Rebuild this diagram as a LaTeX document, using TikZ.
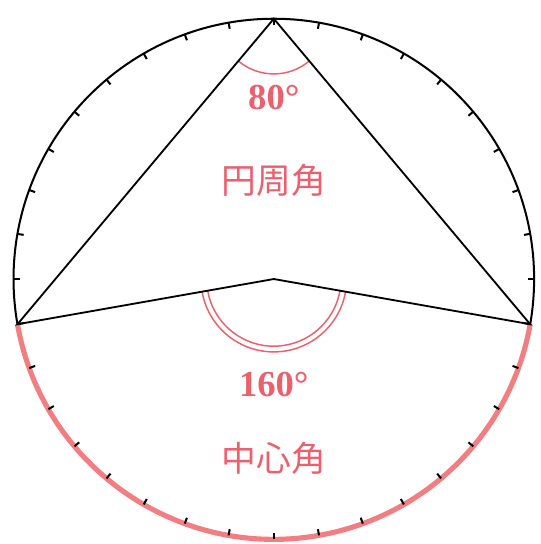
\documentclass[tikz,border=0pt]{standalone}
\usepackage{fontspec}
\setmainfont{Liberation Serif}
\newfontfamily\jpfont{Noto Sans CJK JP}
\usetikzlibrary{calc}
\definecolor{angred} {RGB}{236,96,108}
\definecolor{arcpink}{RGB}{242,126,130}
\tikzset{
  rim/.style   ={line width=1.1pt, black},
  chord/.style ={line width=1pt, black, line join=miter},
  tickmark/.style={line width=1.1pt, black},
  bigarc/.style={line width=2.8pt, arcpink},
  angarc/.style={line width=0.8pt, angred},
  numlbl/.style={text=angred, font=\fontsize{20}{24}\selectfont\bfseries, inner sep=0pt},
  jplbl/.style ={text=angred, font=\fontsize{19}{23}\selectfont\jpfont, inner sep=0pt},
}
\begin{document}
\begin{tikzpicture}
  \useasboundingbox (-5.26,-5.09) rectangle (5.13,5.36);
  % points on the circle
  \coordinate (O) at (0,0);
  \coordinate (C) at (90:5);
  \coordinate (A) at (190:5);
  \coordinate (B) at (350:5);
  % circle and arc
  \draw[rim] (O) circle (5);
  \draw[bigarc] (A) arc (190:350:5);
  \foreach \a in {0,10,...,350}
    \draw[tickmark] (\a:5) -- (\a:4.88);
  % angle marks
  \draw[angarc] ($(C)+(230:1.06)$) arc (230:310:1.06);
  \draw[angarc] ($(O)+(190:1.29)$) arc (190:350:1.29);
  \draw[angarc] ($(O)+(190:1.40)$) arc (190:350:1.40);
  % chords
  \draw[chord] (A) -- (C) -- (B) -- (O) -- cycle;
  % labels
  \node[numlbl] (ins) at (0,3.49) {80°};
  \node[jplbl] (insname) at (0,1.90) {円周角};
  \node[numlbl] (cen) at (0,-2.03) {160°};
  \node[jplbl] (cenname) at (0,-3.44) {中心角};
\end{tikzpicture}
\end{document}
